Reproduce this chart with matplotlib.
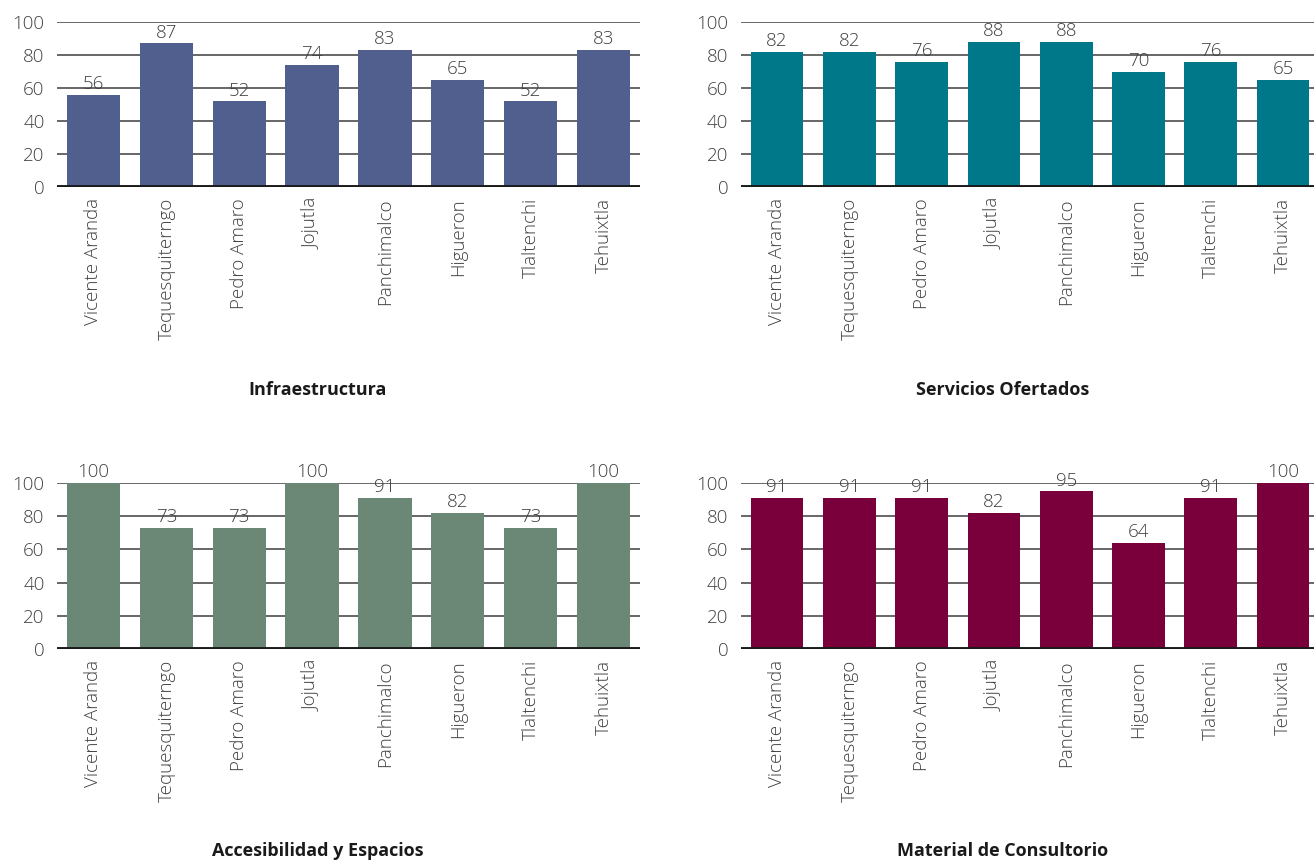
import matplotlib.pyplot as plt
import numpy as np

plt.rcParams['font.family'] = ['Open Sans', 'DejaVu Sans']

localidades = ['Vicente Aranda', 'Tequesquiterngo', 'Pedro Amaro', 'Jojutla',
               'Panchimalco', 'Higueron', 'Tlaltenchi', 'Tehuixtla']

infraestructura = [56, 87, 52, 74, 83, 65, 52, 83]
servicios = [82, 82, 76, 88, 88, 70, 76, 65]
accesibilidad = [100, 73, 73, 100, 91, 82, 73, 100]
material = [91, 91, 91, 82, 95, 64, 91, 100]

paneles = [
    (infraestructura, 'Infraestructura', '#515f8f', [0.0434, 0.7833, 0.4437, 0.1912]),
    (servicios, 'Servicios Ofertados', '#00788a', [0.5639, 0.7833, 0.4400, 0.1912]),
    (accesibilidad, 'Accesibilidad y Espacios', '#6b8877', [0.0434, 0.2480, 0.4437, 0.1923]),
    (material, 'Material de Consultorio', '#7a003c', [0.5639, 0.2480, 0.4400, 0.1923]),
]
title_pos = [(0.242, 0.548), (0.763, 0.548), (0.242, 0.0139), (0.763, 0.0139)]

gris = '#404040'
fs = 13.5
fig = plt.figure(figsize=(13.14, 8.63), dpi=100)

for (vals, titulo, color, rect), (tx, ty) in zip(paneles, title_pos):
    ax = fig.add_axes(rect)
    x = np.arange(len(localidades))
    ax.bar(x, vals, width=0.73, color=color, zorder=2)
    for yy in range(20, 101, 20):
        ax.axhline(yy, color='#5a5a5a', lw=1.3, zorder=1)
    ax.axhline(0, color='#1a1a1a', lw=2.8, zorder=3)
    for xi, v in zip(x, vals):
        ax.text(xi, v + 1.0, str(v), ha='center', va='bottom', fontsize=fs,
                color=gris, fontweight='light', zorder=4)
    ax.set_xlim(-0.5, 7.5)
    ax.set_ylim(0, 100)
    ax.set_yticks(range(0, 101, 20))
    ax.set_xticks(x)
    ax.set_xticklabels(localidades, rotation=90, fontsize=fs, color=gris,
                       fontweight='light')
    ax.tick_params(axis='both', length=0, labelsize=fs, labelcolor=gris)
    ax.tick_params(axis='x', pad=8)
    ax.tick_params(axis='y', pad=9)
    for lab in ax.get_yticklabels():
        lab.set_fontweight('light')
    for s in ax.spines.values():
        s.set_visible(False)
    ax.patch.set_alpha(0)
    fig.text(tx, ty, titulo, ha='center', va='center', fontsize=13,
             fontweight='bold', color='#1a1a1a')

fig.savefig('out.png', dpi=100)
